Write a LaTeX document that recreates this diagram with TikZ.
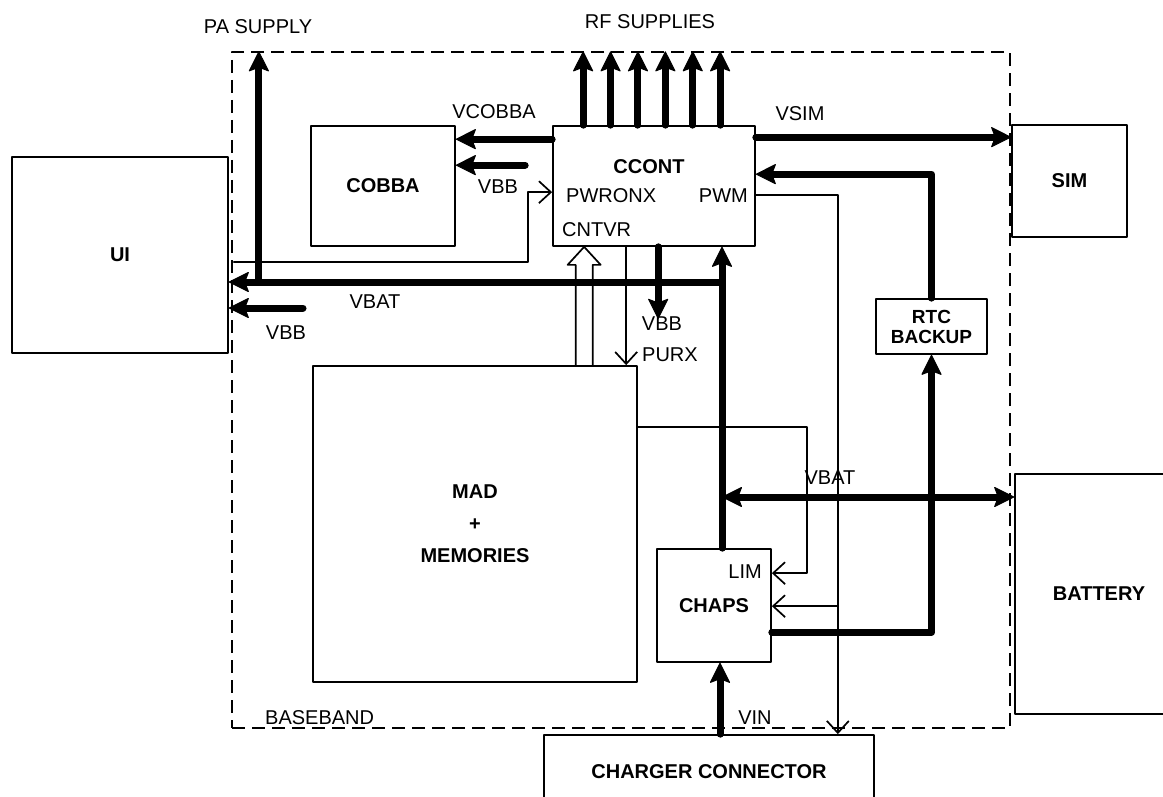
\documentclass[tikz,border=0pt]{standalone}
\usepackage{fontspec}
\setmainfont{Liberation Sans}
\usetikzlibrary{arrows.meta}

\begin{document}
\begin{tikzpicture}[x=1pt,y=-1pt,line cap=round,line join=round,
  >={Stealth[length=21pt,width=21pt,inset=4pt,round,line width=1pt]},
  blk/.style={draw,line width=1.7pt,inner sep=0pt,font=\bfseries\fontsize{20}{24}\selectfont},
  bbox/.style={draw,line width=1.3pt,dash pattern=on 13pt off 7pt,line cap=butt,inner sep=0pt},
  lbl/.style={inner sep=0pt,font=\fontsize{20}{24}\selectfont},
  bus/.style={line width=7pt},
  sig/.style={line width=1.7pt},
  ctl/.style={sig,-{Straight Barb[length=12pt,width=22pt]}}]
\useasboundingbox (0,0) rectangle (1163,797);
\clip (0,0) rectangle (1163,797);
% blocks
\node[bbox,minimum width=778pt,minimum height=676pt] (bb) at (621,390) {};
\node[blk,minimum width=216pt,minimum height=196pt] (ui) at (120,255) {UI};
\node[blk,minimum width=144pt,minimum height=120pt] (cobba) at (383,186) {COBBA};
\node[blk,minimum width=202pt,minimum height=120pt] (cc) at (654,186) {};
\node[blk,minimum width=115pt,minimum height=112pt] (sim) at (1069.5,181) {SIM};
\node[blk,minimum width=111pt,minimum height=55pt,align=center,font=\bfseries\fontsize{19}{20}\selectfont] (rtc) at (931.5,326.5) {RTC\\BACKUP};
\node[blk,minimum width=324pt,minimum height=316pt,align=center,font=\bfseries\fontsize{20}{32}\selectfont] (mad) at (475,524) {MAD\\+\\MEMORIES};
\node[blk,minimum width=114pt,minimum height=113pt] (chaps) at (714,605.5) {CHAPS};
\node[blk,minimum width=168pt,minimum height=240pt] (bat) at (1099,594) {BATTERY};
\node[blk,minimum width=330pt,minimum height=74pt] (chg) at (709,772) {CHARGER CONNECTOR};
% junctions and free ends
\coordinate (vbatj) at (722,282);
\coordinate (vbatb) at (722,497);
\coordinate (vbbu) at (303,308);
\coordinate (paj) at ([xshift=30pt]ui.east |- vbatj);
\coordinate (cnt) at ([xshift=32pt]cc.south west);
\coordinate (cnb) at (cnt |- mad.north);
\coordinate (pwmj) at ([xshift=66pt,yshift=-58pt]chaps.north east);
% supply buses
\draw[bus,->] (paj) -- (paj |- bb.north);
\foreach \dx in {31,58.4,85.8,113.2,140.6,168}
  \draw[bus,->] ([xshift=\dx pt]cc.north west) -- ([xshift=\dx pt]cc.north west |- bb.north);
\draw[bus,->] ([yshift=-14pt]cc.north west) -- ([yshift=-14pt]cobba.north east);
\draw[bus,->] ([xshift=-27pt,yshift=-40pt]cc.north west) -- ([yshift=-40pt]cobba.north east);
\draw[bus,->] ([yshift=-12pt]cc.north east) -- ([yshift=-12pt]cc.north east -| sim.west);
\draw[bus,->] (rtc.north) |- ([yshift=-49pt]cc.north east);
\draw[bus,->] ([yshift=-84pt]chaps.north east) -| (rtc.south);
\draw[bus,->] (vbatj) -- (vbatj -| ui.east);
\draw[bus,->] (vbbu) -- (vbbu -| ui.east);
\draw[bus,->] (vbatj |- chaps.north) -- (vbatj |- cc.south);
\draw[bus,<->] (vbatb) -- (vbatb -| bat.west);
\draw[bus,->] ([xshift=106pt]cc.south west) -- ([xshift=106pt,yshift=-72pt]cc.south west);
\draw[bus,->] ([xshift=6pt]chaps.south |- chg.north) -- ([xshift=6pt]chaps.south);
% control lines
\draw[ctl] ([xshift=5pt,yshift=-7pt]ui.east) -| ([xshift=-24pt,yshift=-67pt]cc.north west) -- ([yshift=-67pt]cc.north west);
\draw[ctl] ([xshift=74pt]cc.south west) -- ([xshift=74pt]cc.south west |- mad.north);
\draw[sig] ([xshift=-8.5pt]cnb) -- ([xshift=-8.5pt,yshift=-18pt]cnt) -- ([xshift=-16.5pt,yshift=-18pt]cnt) -- (cnt)
  -- ([xshift=16.5pt,yshift=-18pt]cnt) -- ([xshift=8.5pt,yshift=-18pt]cnt) -- ([xshift=8.5pt]cnb);
\draw[ctl] ([yshift=-62pt]mad.north east) -| ([xshift=35pt,yshift=-25pt]chaps.north east) -- ([yshift=-25pt]chaps.north east);
\draw[ctl] ([yshift=-70pt]cc.north east) -| ([xshift=-37pt]chg.north east);
\draw[ctl] (pwmj) -- ([yshift=-58pt]chaps.north east);
% labels
\node[lbl] (lpa) at (258,27) {PA SUPPLY};
\node[lbl] (lrf) at (650,22) {RF SUPPLIES};
\node[lbl] (lvcobba) at (494,112) {VCOBBA};
\node[lbl] (lvbbc) at (498,187) {VBB};
\node[lbl,anchor=west] (lpwronx) at (566,196) {PWRONX};
\node[lbl,anchor=east] (lpwm) at (748,196) {PWM};
\node[lbl,anchor=west] (lcntvr) at (562,230) {CNTVR};
\node[lbl,font=\bfseries\fontsize{20}{24}\selectfont] (lccont) at (649,167) {CCONT};
\node[lbl] (lvsim) at (800,114) {VSIM};
\node[lbl] (lvbat) at (375,302) {VBAT};
\node[lbl] (lvbbu) at (286,333) {VBB};
\node[lbl] (lvbbd) at (662,324) {VBB};
\node[lbl,anchor=west] (lpurx) at (642,355) {PURX};
\node[lbl] (lvbatb) at (830,478) {VBAT};
\node[lbl,anchor=east] (llim) at (762,572) {LIM};
\node[lbl] (lvin) at (755,718) {VIN};
\node[lbl,anchor=west] (lbb) at (265,718) {BASEBAND};
\end{tikzpicture}
\end{document}
